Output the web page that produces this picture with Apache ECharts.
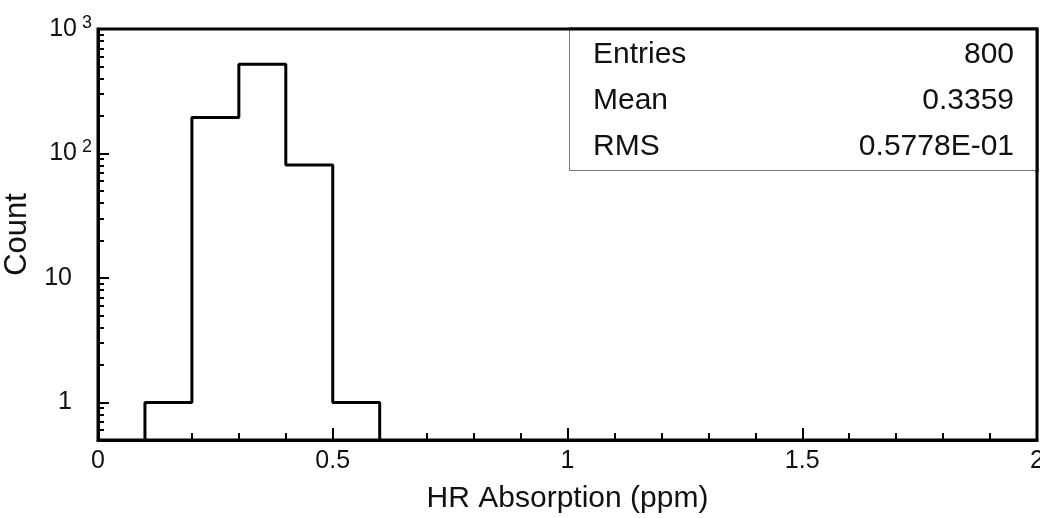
<!DOCTYPE html>
<html>
<head>
<meta charset="utf-8">
<script src="https://cdn.jsdelivr.net/npm/echarts@6/dist/echarts.min.js"></script>
<style>
html,body{margin:0;padding:0;background:#fff;}
#c{width:1040px;height:518px;}
</style>
</head>
<body>
<div id="c"></div>
<script>
// ---- data ----
var binEdges = [0.1, 0.2, 0.3, 0.4, 0.5, 0.6];
var binCounts = [1, 195, 522, 81, 1];
var yMajorTicks = [1, 10, 100, 1000];
var yMinorTicks = [0.6, 0.7, 0.8, 0.9, 2, 3, 4, 5, 6, 7, 8, 9, 20, 30, 40, 50, 60, 70, 80, 90, 200, 300, 400, 500, 600, 700, 800, 900];
var xTicks = [0, 0.5, 1, 1.5, 2];
var statLabels = ['Entries', 'Mean', 'RMS'];
var statValues = ['800', '0.3359', '0.5778E-01'];
var xTitle = 'HR Absorption (ppm)';
var yTitle = 'Count';
var yMin = 0.5, yMax = 1000;

// histogram outline built from bins
var outline = [[binEdges[0], yMin]];
for (var i = 0; i < binCounts.length; i++) {
  outline.push([binEdges[i], binCounts[i]]);
  outline.push([binEdges[i + 1], binCounts[i]]);
}
outline.push([binEdges[binEdges.length - 1], yMin]);

var FONT = '"Liberation Sans", Arial, Helvetica, sans-serif';
var gridRect = {left: 98, right: 3, top: 29, bottom: 78, outerBoundsMode: 'none', containLabel: false};

function yLabel(v) {
  if (v === 1) return '{n|1}{g|}';
  if (v === 10) return '{n|10}{g|}';
  var e = Math.round(Math.log(v) / Math.LN10);
  return '{n|10}{s|' + e + '}';
}

var chart = echarts.init(document.getElementById('c'), null, {renderer: 'canvas'});
var statGraphics = [];
statGraphics.push({
  type: 'rect', z: 50,
  shape: {x: 569.5, y: 29.5, width: 468, height: 141},
  style: {fill: '#fff', stroke: '#777', lineWidth: 1}
});
for (var k = 0; k < statLabels.length; k++) {
  statGraphics.push({type: 'text', z: 51, x: 593, y: 55 + k * 46,
    style: {text: statLabels[k], font: '30px ' + FONT, fill: '#111', verticalAlign: 'middle', align: 'left'}});
  statGraphics.push({type: 'text', z: 51, x: 1014, y: 55 + k * 46,
    style: {text: statValues[k], font: '30px ' + FONT, fill: '#111', verticalAlign: 'middle', align: 'right'}});
}
// redraw frame top/right lines over box
statGraphics.push({type: 'line', z: 52, shape: {x1: 569, y1: 29, x2: 1038, y2: 29}, style: {stroke: '#000', lineWidth: 3}});
statGraphics.push({type: 'line', z: 52, shape: {x1: 1037, y1: 28, x2: 1037, y2: 172}, style: {stroke: '#000', lineWidth: 3}});

chart.setOption({
  animation: false,
  backgroundColor: '#fff',
  textStyle: {fontFamily: FONT, color: '#000'},
  grid: [
    Object.assign({show: true, borderColor: '#000', borderWidth: 3, backgroundColor: 'transparent'}, gridRect),
    Object.assign({show: false}, gridRect)
  ],
  xAxis: [{
    type: 'value', gridIndex: 0, min: 0, max: 2, interval: 0.5,
    name: xTitle, nameLocation: 'middle', nameGap: 44,
    nameTextStyle: {fontSize: 30, color: '#111', fontFamily: FONT},
    axisLine: {show: true, onZero: false, lineStyle: {color: '#000', width: 3}},
    axisTick: {show: true, inside: true, length: 12, lineStyle: {color: '#000', width: 2}},
    minorTick: {show: true, splitNumber: 5, length: 7, lineStyle: {color: '#000', width: 2}},
    axisLabel: {show: true, margin: 9, fontSize: 25, color: '#111', fontFamily: FONT,
      customValues: xTicks, formatter: function (v) { return String(v); }},
    splitLine: {show: false}, minorSplitLine: {show: false}
  }, {
    type: 'value', gridIndex: 1, min: 0, max: 2, show: false
  }],
  yAxis: [{
    type: 'log', gridIndex: 0, min: yMin, max: yMax, logBase: 10,
    name: yTitle, nameLocation: 'middle', nameGap: 62, nameRotate: 90,
    nameTextStyle: {fontSize: 31, color: '#111', fontFamily: FONT},
    axisLine: {show: true, onZero: false, lineStyle: {color: '#000', width: 3}},
    axisTick: {show: true, inside: true, length: 11, customValues: yMajorTicks, lineStyle: {color: '#000', width: 2}},
    axisLabel: {show: true, margin: 6, customValues: yMajorTicks, formatter: yLabel,
      rich: {
        n: {fontSize: 25, color: '#111', fontFamily: FONT, verticalAlign: 'middle'},
        s: {fontSize: 18, color: '#111', fontFamily: FONT, verticalAlign: 'bottom', padding: [0, 0, 12, 5]},
        g: {width: 20}
      }},
    splitLine: {show: false}
  }, {
    type: 'log', gridIndex: 1, min: yMin, max: yMax, logBase: 10,
    axisLine: {show: false},
    axisTick: {show: true, inside: true, length: 6, customValues: yMinorTicks, lineStyle: {color: '#000', width: 2}},
    axisLabel: {show: false},
    splitLine: {show: false}
  }],
  series: [{
    type: 'line', xAxisIndex: 0, yAxisIndex: 0,
    data: outline, showSymbol: false, symbol: 'none',
    lineStyle: {color: '#000', width: 3}, clip: false, z: 10
  }],
  graphic: statGraphics
});
</script>
</body>
</html>
